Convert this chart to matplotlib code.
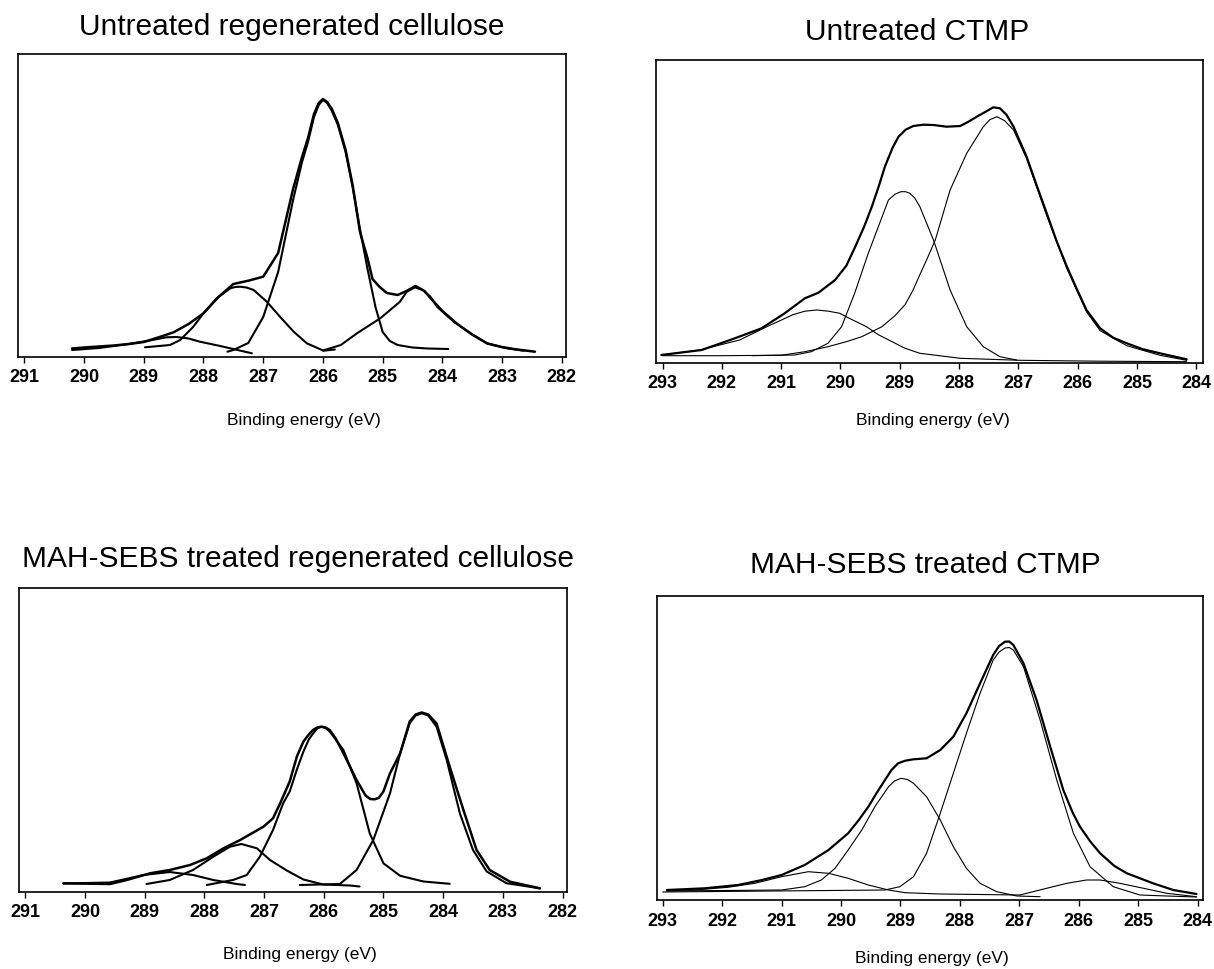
import matplotlib.pyplot as plt

plt.rcParams['font.family'] = ['Liberation Sans', 'DejaVu Sans']

# ---- Untreated regenerated cellulose (C1s), intensity in a.u.
ucell_env_ev = [290.2, 290.0, 289.75, 289.5, 289.25, 289.0, 288.75, 288.5, 288.25, 288.0, 287.75, 287.5,
                287.25, 287.0, 286.75, 286.5, 286.35, 286.25, 286.15, 286.07, 286.0, 285.93, 285.85,
                285.75, 285.62, 285.5, 285.38, 285.25, 285.17, 285.05, 284.93, 284.75, 284.6, 284.45,
                284.3, 284.2, 284.0, 283.75, 283.5, 283.25, 283.0, 282.75, 282.45]
ucell_env_int = [8.5, 9.5, 10.5, 11.5, 13, 15, 19.7, 24.7, 33, 43.7, 60, 73,
                 76.3, 80.3, 104, 168, 200, 219, 243, 254, 258, 255, 248,
                 234, 207, 171, 125, 98, 78, 70, 64, 62, 66, 71,
                 66, 59, 46, 33, 22.4, 13.5, 9.9, 7.5, 5.3]
ucell_c1_ev = [287.6, 287.5, 287.25, 287.0, 286.75, 286.5, 286.35, 286.25, 286.15, 286.07, 286.0, 285.93,
               285.85, 285.75, 285.62, 285.5, 285.38, 285.25, 285.12, 285.0, 284.88, 284.75, 284.5,
               284.25, 283.9]
ucell_c1_int = [5.3, 7, 14, 40, 85, 157, 195, 215, 240, 252, 257, 254,
                246, 232, 205, 169, 128, 87, 50, 25, 16, 12, 9.5,
                8.5, 8]
ucell_c2_ev = [288.98, 288.56, 288.39, 288.17, 288.0, 287.78, 287.55, 287.47, 287.39, 287.28, 287.16,
               286.94, 286.72, 286.49, 286.27, 285.99, 285.8]
ucell_c2_int = [9.7, 12, 17, 30.3, 43.7, 58.7, 68.7, 70, 70.3, 69.5, 67,
                55.3, 40.3, 25.3, 13.7, 6.3, 7.5]
ucell_c3_ev = [286.0, 285.7, 285.43, 285.04, 284.71, 284.6, 284.46, 284.33, 284.2, 284.09, 283.81,
               283.53, 283.25, 282.92, 282.64]
ucell_c3_int = [6.5, 12, 23.7, 38.7, 55.3, 65, 69.7, 67, 60.3, 50.3, 35.3,
                23.7, 13.7, 8.7, 6.3]
ucell_c4_ev = [290.2, 289.75, 289.25, 288.9, 288.62, 288.45, 288.25, 288.06, 287.72, 287.19]
ucell_c4_int = [7, 9, 13, 16.5, 19.7, 20, 18.5, 15.3, 11, 3.7]

# ---- Untreated CTMP
uctmp_env_ev = [293.02, 292.34, 291.78, 291.33, 290.94, 290.6, 290.37, 290.09, 289.9, 289.75, 289.6,
                289.47, 289.35, 289.25, 289.12, 289.02, 288.9, 288.77, 288.6, 288.43, 288.21, 287.98,
                287.84, 287.7, 287.55, 287.42, 287.31, 287.2, 287.08, 286.86, 286.7, 286.52, 286.35,
                286.18, 286.0, 285.85, 285.62, 285.4, 285.17, 284.9, 284.61, 284.16]
uctmp_env_int = [7.7, 12.7, 24.4, 34.4, 49.4, 64.4, 70, 82.7, 97, 116, 136,
                 156, 177, 196, 215, 226, 233, 236.7, 238, 237.7, 236, 236.7,
                 241, 246, 251, 255.4, 254.4, 248, 236, 206, 179, 149.4, 121,
                 96, 72, 52.7, 34.4, 25, 19.4, 13.5, 9.4, 3.4]
uctmp_c1_ev = [291.5, 290.77, 290.49, 290.21, 289.98, 289.76, 289.53, 289.36, 289.19, 289.08, 288.98,
               288.9, 288.83, 288.75, 288.66, 288.43, 288.15, 287.87, 287.59, 287.31, 287.03]
uctmp_c1_int = [7, 7.7, 11, 19.4, 36, 69.4, 109.4, 136, 162.7, 168.5, 171,
                171, 169.4, 165, 156, 122.7, 72.7, 36, 16, 6, 2.7]
uctmp_c2_ev = [293.0, 292.0, 290.99, 290.6, 290.21, 289.9, 289.64, 289.3, 289.08, 288.91, 288.78, 288.66,
               288.53, 288.4, 288.15, 287.87, 287.59, 287.48, 287.36, 287.23, 287.08, 286.86, 286.52,
               286.18, 285.85, 285.62, 285.17, 284.61, 284.16]
uctmp_c2_int = [7, 7, 7.5, 11, 16, 21, 26, 36, 47, 58, 72, 88,
                105, 122.7, 172.7, 209.4, 236, 243, 246, 242, 232.7, 204, 147,
                94, 51, 32, 17, 7.4, 2.4]
uctmp_c3_ev = [293.02, 292.37, 291.7, 291.24, 290.8, 290.6, 290.4, 290.2, 290.01, 289.87, 289.56, 289.36,
               288.91, 288.66, 287.98, 286.97, 285.62, 284.16]
uctmp_c3_int = [7.7, 12.7, 22.7, 36, 48, 51.5, 52.7, 51.5, 49.4, 45, 36, 28,
                14.4, 9.4, 4.4, 2.4, 1.5, 1]

# ---- MAH-SEBS treated regenerated cellulose
tcell_env_ev = [290.36, 289.58, 289.3, 288.91, 288.58, 288.24, 287.96, 287.68, 287.4, 287.01, 286.85,
                286.73, 286.57, 286.45, 286.34, 286.25, 286.18, 286.11, 286.04, 285.97, 285.9, 285.8,
                285.67, 285.45, 285.3, 285.22, 285.15, 285.08, 285.0, 284.89, 284.72, 284.56, 284.46,
                284.36, 284.25, 284.11, 283.89, 283.66, 283.44, 283.22, 282.88, 282.38]
tcell_env_int = [8.2, 7.5, 11.5, 18.2, 21.5, 26.5, 33.2, 43.2, 51.5, 64.8, 73.2,
                 88.2, 110, 135, 150, 157, 161.5, 164, 164.8, 164, 161.5, 153,
                 138.2, 111.5, 96, 92.5, 92.2, 93.5, 100, 118.2, 138.2, 170, 177,
                 179, 177, 168, 124.8, 81.5, 41.5, 21.5, 9.8, 3.2]
tcell_c1_ev = [287.96, 287.52, 287.29, 287.07, 286.85, 286.68, 286.57, 286.45, 286.34, 286.25, 286.18,
               286.11, 286.04, 285.97, 285.9, 285.8, 285.67, 285.45, 285.23, 285.0, 284.72, 284.33,
               283.89]
tcell_c1_int = [6.5, 11.5, 16.5, 34.8, 61.5, 88.2, 100, 122, 140, 152, 158,
                163, 164.8, 163.5, 160, 152, 141.5, 108.2, 58.2, 28.2, 15.7, 10,
                7.7]
tcell_c2_ev = [286.4, 285.73, 285.45, 285.17, 284.89, 284.72, 284.56, 284.46, 284.36, 284.25, 284.11,
               283.94, 283.72, 283.5, 283.27, 282.94, 282.38]
tcell_c2_int = [6.5, 7.5, 21.5, 51.5, 98.2, 138.2, 168.2, 176, 178.2, 176, 164.8,
                131.5, 78.2, 41.5, 20, 8.3, 3.2]
tcell_c3_ev = [288.97, 288.58, 288.19, 287.85, 287.57, 287.38, 287.12, 286.9, 286.62, 286.34, 286.01,
               285.56, 285.4]
tcell_c3_int = [7.5, 11.5, 21.5, 34.8, 44.8, 47.5, 43.2, 31.5, 21, 12, 7, 6, 5]
tcell_c4_ev = [290.36, 289.58, 289.02, 288.58, 288.19, 287.85, 287.46, 287.32]
tcell_c4_int = [8, 9, 16.5, 19.5, 16.5, 11.5, 7.5, 6.5]

# ---- MAH-SEBS treated CTMP
tctmp_env_ev = [292.93, 292.29, 291.73, 291.33, 291.0, 290.61, 290.21, 289.88, 289.7, 289.54, 289.4,
                289.26, 289.15, 289.04, 288.92, 288.78, 288.56, 288.33, 288.11, 287.89, 287.66, 287.44,
                287.34, 287.24, 287.17, 287.1, 286.93, 286.71, 286.48, 286.26, 286.1, 285.98, 285.8,
                285.64, 285.4, 285.19, 284.75, 284.41, 284.02]
tctmp_env_int = [10, 11.7, 15, 20, 25, 35, 50, 66.7, 80, 93.3, 107,
                 120, 130, 136.7, 139.3, 140.7, 141.7, 150, 163.3, 186.7, 216.7, 245,
                 254, 258.3, 258.5, 255, 236.7, 200, 153.3, 110, 87, 73.3, 58,
                 46.7, 34, 26.7, 16.7, 10, 6]
tctmp_c1_ev = [292.93, 291.0, 290.61, 290.33, 290.1, 289.88, 289.65, 289.43, 289.2, 289.1, 288.99,
               288.88, 288.78, 288.56, 288.33, 288.11, 287.89, 287.66, 287.38, 287.04, 286.65]
tctmp_c1_int = [9, 10, 13.3, 20, 31.7, 50, 70, 93.3, 113.3, 119, 121.7,
                120.5, 116.7, 103.3, 80, 53.3, 31.7, 16.7, 8.3, 4, 3.3]
tctmp_c2_ev = [293.0, 289.26, 289.01, 288.78, 288.56, 288.33, 288.11, 287.89, 287.66, 287.44, 287.34,
               287.24, 287.17, 287.1, 286.93, 286.65, 286.37, 286.09, 285.81, 285.42, 284.97, 284.52,
               284.02]
tctmp_c2_int = [8, 10, 13.3, 23.3, 46.7, 86.7, 126.7, 166.7, 206.7, 240, 248,
                252, 252.5, 250, 233.3, 180, 120, 66.7, 33.3, 13.3, 5, 4,
                3]
tctmp_c3_ev = [292.93, 292.46, 291.9, 291.45, 291.0, 290.55, 290.21, 289.88, 289.54, 289.2, 288.92,
               288.33, 286.99]
tctmp_c3_int = [9.3, 10, 12.7, 16.7, 23.3, 28.3, 26.7, 21.7, 15, 10, 7.3, 6, 5]
tctmp_c4_ev = [286.99, 286.54, 286.2, 285.87, 285.64, 285.31, 284.91, 284.52, 284.02]
tctmp_c4_int = [5, 11.7, 16.7, 20, 20, 16.7, 11.7, 6.7, 3.3]

cell_ticks = list(range(291, 281, -1))
ctmp_ticks = list(range(293, 283, -1))

W, H = 1214, 969
fig = plt.figure(figsize=(W / 100, H / 100), dpi=100)


def px_rect(left, top, right, bottom):
    return [left / W, 1 - bottom / H, (right - left) / W, (bottom - top) / H]


def draw_panel(rect, xlim, ylim, ticks, curves, env, env_lw, comp_lw):
    ax = fig.add_axes(rect)
    ev, inten = env
    ax.plot(ev, inten, color="black", lw=env_lw, solid_joinstyle="round", solid_capstyle="round")
    for ev, inten in curves:
        ax.plot(ev, inten, color="black", lw=comp_lw, solid_joinstyle="round", solid_capstyle="round")
    ax.set_xlim(*xlim)
    ax.set_ylim(*ylim)
    ax.set_xticks(ticks)
    ax.set_xticklabels([str(t) for t in ticks], fontsize=13, fontweight="bold")
    ax.set_yticks([])
    ax.tick_params(axis="x", direction="out", length=4, width=1, pad=5)
    for s in ax.spines.values():
        s.set_linewidth(1.2)
    return ax


draw_panel(px_rect(18, 54, 566, 357), (291.106, 281.93), (0, 303), cell_ticks,
           [(ucell_c1_ev, ucell_c1_int), (ucell_c2_ev, ucell_c2_int),
            (ucell_c3_ev, ucell_c3_int), (ucell_c4_ev, ucell_c4_int)],
           (ucell_env_ev, ucell_env_int), 1.8, 1.5)
draw_panel(px_rect(656, 60, 1202.7, 362.7), (293.11, 283.89), (0, 302.7), ctmp_ticks,
           [(uctmp_c1_ev, uctmp_c1_int), (uctmp_c2_ev, uctmp_c2_int), (uctmp_c3_ev, uctmp_c3_int)],
           (uctmp_env_ev, uctmp_env_int), 1.6, 0.8)
draw_panel(px_rect(19.3, 588.3, 566.7, 891.5), (291.1, 281.93), (0, 303.2), cell_ticks,
           [(tcell_c1_ev, tcell_c1_int), (tcell_c2_ev, tcell_c2_int),
            (tcell_c3_ev, tcell_c3_int), (tcell_c4_ev, tcell_c4_int)],
           (tcell_env_ev, tcell_env_int), 1.8, 1.5)
draw_panel(px_rect(657.3, 596, 1203.3, 900), (293.09, 283.905), (0, 304), ctmp_ticks,
           [(tctmp_c1_ev, tctmp_c1_int), (tctmp_c2_ev, tctmp_c2_int),
            (tctmp_c3_ev, tctmp_c3_int), (tctmp_c4_ev, tctmp_c4_int)],
           (tctmp_env_ev, tctmp_env_int), 1.6, 0.8)

titles = [("Untreated regenerated cellulose", 291.5, 35),
          ("Untreated CTMP", 917, 40),
          ("MAH-SEBS treated regenerated cellulose", 298, 566.7),
          ("MAH-SEBS treated CTMP", 925, 573.3)]
for txt, x, y in titles:
    fig.text(x / W, 1 - y / H, txt, ha="center", va="baseline", fontsize=21.5)

for x, y in [(304, 421), (933, 421), (300, 954), (932, 958)]:
    fig.text(x / W, 1 - y / H, "Binding energy (eV)", ha="center", va="center", fontsize=12.5)

fig.savefig("out.png", dpi=100)
